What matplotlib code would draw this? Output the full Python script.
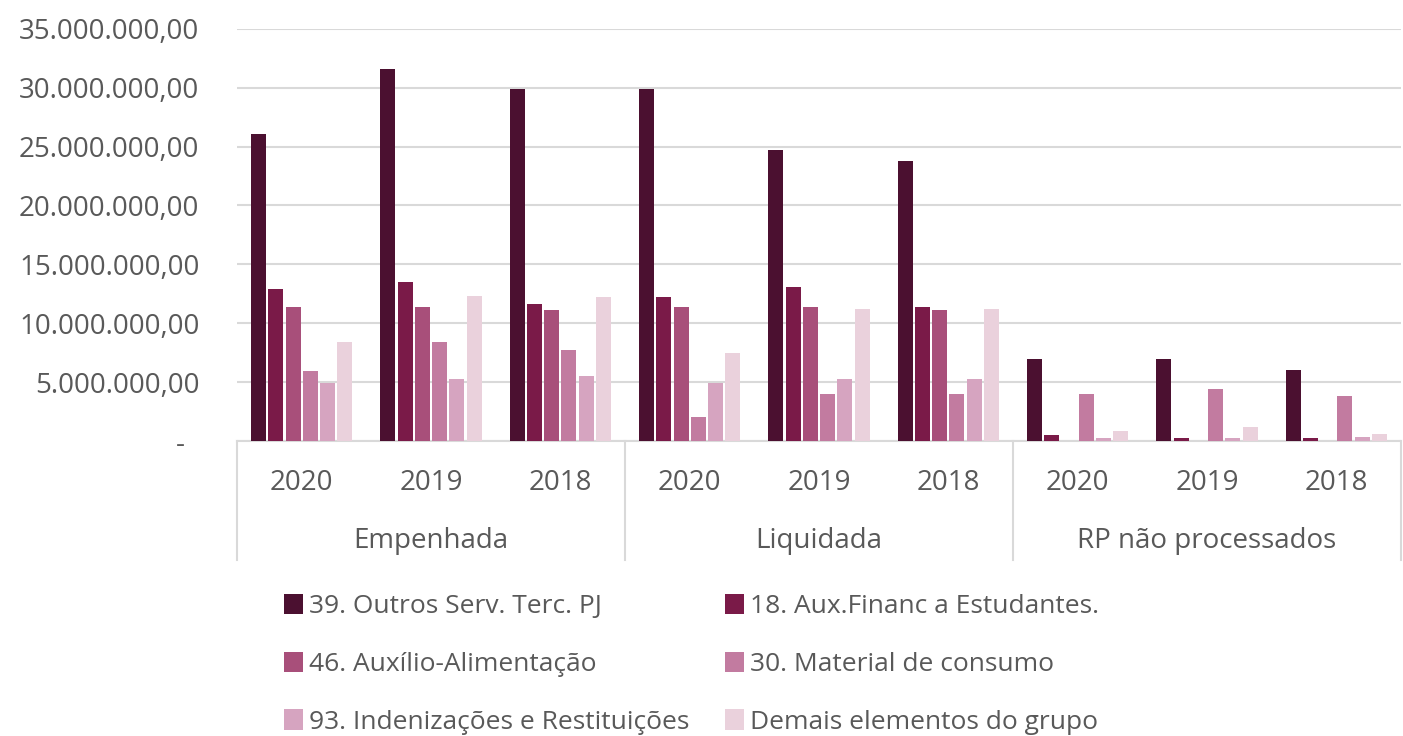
import matplotlib
matplotlib.use("Agg")
import matplotlib.pyplot as plt
import matplotlib.transforms as mtransforms
import numpy as np

plt.rcParams['font.family'] = ['Open Sans', 'DejaVu Sans']

groups = ["Empenhada", "Liquidada", "RP não processados"]
years = ["2020", "2019", "2018"]

series_names = [
    "39. Outros Serv. Terc. PJ",
    "18. Aux.Financ a Estudantes.",
    "46. Auxílio-Alimentação",
    "30. Material de consumo",
    "93. Indenizações e Restituições",
    "Demais elementos do grupo",
]
colors = ["#4B1030", "#7A1A48", "#A84F7A", "#C27BA0", "#D6A4C0", "#EAD1DC"]

# values in R$, order: Empenhada 2020/2019/2018, Liquidada 2020/2019/2018, RP 2020/2019/2018
s39 = [26.1e6, 31.6e6, 29.9e6, 29.9e6, 24.7e6, 23.8e6, 7.0e6, 7.0e6, 6.0e6]
s18 = [12.9e6, 13.5e6, 11.6e6, 12.2e6, 13.1e6, 11.4e6, 0.5e6, 0.25e6, 0.25e6]
s46 = [11.4e6, 11.4e6, 11.1e6, 11.4e6, 11.4e6, 11.1e6, 0.0, 0.0, 0.0]
s30 = [5.9e6, 8.4e6, 7.7e6, 2.0e6, 4.0e6, 4.0e6, 4.0e6, 4.4e6, 3.8e6]
s93 = [4.9e6, 5.3e6, 5.5e6, 4.9e6, 5.25e6, 5.25e6, 0.28e6, 0.28e6, 0.34e6]
sdem = [8.4e6, 12.3e6, 12.2e6, 7.5e6, 11.2e6, 11.2e6, 0.87e6, 1.16e6, 0.62e6]
series = [s39, s18, s46, s30, s93, sdem]

W, H = 1403, 736
fig = plt.figure(figsize=(W / 100, H / 100), dpi=100)
ax_left, ax_right, ax_top, ax_bot = 237, 1401, 28.7, 441
ax = fig.add_axes([ax_left / W, 1 - ax_bot / H, (ax_right - ax_left) / W, (ax_bot - ax_top) / H])

ncat = len(groups) * len(years)
x = np.arange(ncat)
slot = 0.133
bw = 0.116
handles = []
for i, (vals, c, name) in enumerate(zip(series, colors, series_names)):
    b = ax.bar(x + (i - 2.5) * slot, vals, width=bw, color=c, label=name, zorder=3)
    handles.append(b)

ax.set_xlim(-0.5, ncat - 0.5)
ax.set_ylim(0, 35e6)
yt = np.arange(0, 35e6 + 1, 5e6)
ax.set_yticks(yt)

def fmt(v):
    if v == 0:
        return "-  "
    s = f"{int(v):,}".replace(",", ".")
    return s + ",00"

ax.set_yticklabels([fmt(v) for v in yt])
ax.yaxis.grid(True, color="#D9D9D9", linewidth=1.5, zorder=0)
ax.set_axisbelow(True)
for sp in ["left", "right", "top"]:
    ax.spines[sp].set_visible(False)
ax.spines["bottom"].set_color("#D9D9D9")
ax.spines["bottom"].set_linewidth(1.5)
ax.tick_params(axis="y", length=0, pad=27, labelsize=20, labelcolor="#595959")
ax.set_xticks(x)
ax.set_xticklabels(years * len(groups))
ax.tick_params(axis="x", length=0, pad=20, labelsize=20, labelcolor="#595959")

trans = mtransforms.blended_transform_factory(ax.transData, ax.transAxes)
axh = ax_bot - ax_top
for gi, g in enumerate(groups):
    cx = gi * 3 + 1
    ax.text(cx, -(541 - ax_bot) / axh, g, transform=trans, ha="center", va="center",
            fontsize=20, color="#595959")
for sx in [-0.5, 2.5, 5.5, 8.5]:
    ax.plot([sx, sx], [0, -(560 - ax_bot) / axh], transform=trans, color="#D9D9D9",
            linewidth=1.5, clip_on=False)

order = [0, 2, 4, 1, 3, 5]
leg = fig.legend([handles[k] for k in order], [series_names[k] for k in order],
                 ncol=2, loc="upper left", bbox_to_anchor=(284 / W, 1 - 594 / H),
                 frameon=False, fontsize=19, handlelength=0.72, handleheight=0.8,
                 handletextpad=0.22, columnspacing=1.36, labelspacing=1.23,
                 labelcolor="#595959", borderpad=0, borderaxespad=0)

fig.savefig("out.png", dpi=100)
